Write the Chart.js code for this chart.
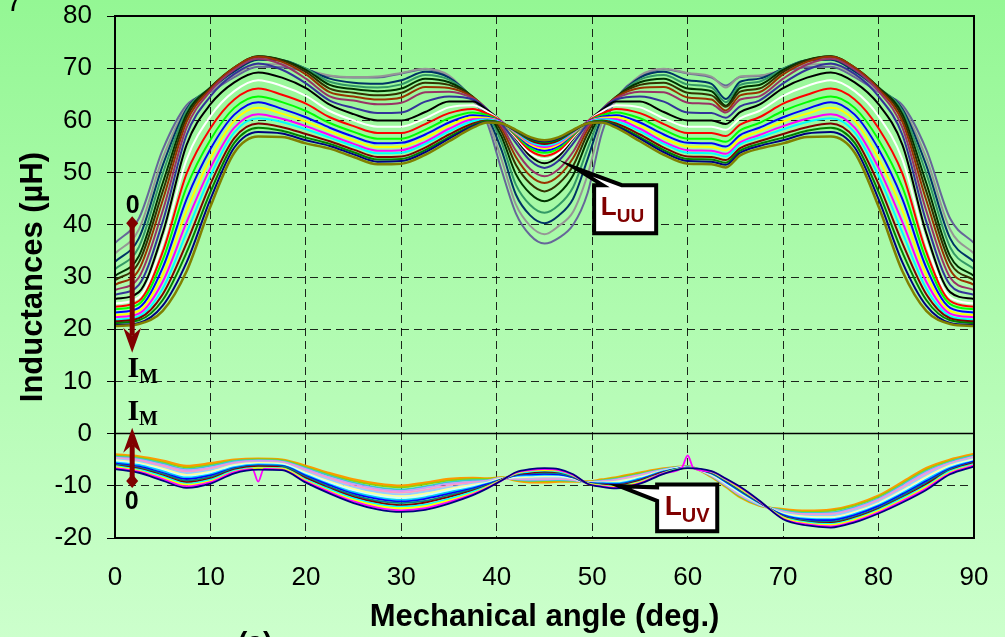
<!DOCTYPE html>
<html>
<head>
<meta charset="utf-8">
<title>Inductances vs mechanical angle</title>
<script src="https://cdn.jsdelivr.net/npm/chart.js@4.4.1/dist/chart.umd.min.js"></script>
<style>
  html, body { margin: 0; padding: 0; background: #ccffcc; }
  #wrap { width: 1005px; height: 637px; }
</style>
</head>
<body>
<div id="wrap"><canvas id="chart" width="1005" height="637"></canvas></div>
<script>
// mechanical angle grid (deg.), shared by all curves
const angles = [0, 2.5, 5, 7.5, 10, 12.5, 15, 17.5, 20, 22.5, 25, 27.5, 30, 32.5, 35, 37.5, 39, 40.5, 42, 43.5,
  45, 46.5, 48, 49.5, 51, 52.5, 55, 57.5, 60, 62.5, 64, 65.5, 67.5, 70, 72.5, 75, 77.5, 80, 82.5, 85, 87.5, 90];

const xTickValues = [0, 10, 20, 30, 40, 50, 60, 70, 80, 90];
const yTickValues = [-20, -10, 0, 10, 20, 30, 40, 50, 60, 70, 80];

// L_UU, one curve per current step (00 = zero current ... 20 = I_M)
const luu00 = [36.5, 41.2, 54.4, 62.9, 65.4, 68.3, 70.3, 70.2, 69.5, 68.5, 68.2, 68.2, 69.0, 69.8, 68.3, 64.0, 59.5, 50.5, 42.2, 38.0, 36.4,
  37.5, 40.0, 46.0, 57.5, 64.0, 68.3, 69.8, 69.0, 68.2, 66.7, 68.3, 68.5, 69.5, 70.2, 70.3, 68.3, 65.4, 62.9, 54.4, 41.2, 36.5];
const luu01 = [34.5, 39.1, 52.8, 62.4, 65.6, 68.7, 70.8, 70.7, 69.7, 68.6, 68.3, 68.4, 69.1, 69.9, 68.6, 63.8, 60.2, 52.5, 43.9, 39.8, 38.2,
  39.8, 42.5, 49.5, 59.5, 63.8, 68.6, 69.9, 69.1, 68.4, 66.3, 68.4, 68.6, 69.7, 70.7, 70.8, 68.7, 65.6, 62.4, 52.8, 39.1, 34.5];
const luu02 = [32.9, 37.4, 51.4, 62.2, 66.0, 69.4, 71.6, 71.5, 69.9, 68.0, 67.2, 67.0, 67.7, 69.3, 68.2, 64.2, 60.8, 54.3, 45.8, 41.8, 40.3,
  41.8, 45.0, 52.5, 60.5, 64.2, 68.2, 69.3, 67.7, 67.0, 64.1, 67.4, 68.0, 69.9, 71.5, 71.6, 69.4, 66.0, 62.2, 51.4, 37.4, 32.9];
const luu03 = [31.5, 35.7, 49.8, 61.8, 66.3, 69.9, 72.1, 71.6, 69.9, 67.4, 66.6, 66.3, 66.9, 68.7, 67.8, 64.4, 61.3, 55.8, 47.7, 43.8, 42.3,
  43.8, 47.2, 54.5, 61.3, 64.4, 67.8, 68.7, 66.9, 66.3, 63.5, 66.8, 67.4, 69.9, 71.6, 72.1, 69.9, 66.3, 61.8, 49.8, 35.7, 31.5];
const luu04 = [30.2, 34.0, 48.0, 61.2, 66.3, 70.1, 72.3, 71.6, 69.7, 66.8, 66.0, 65.6, 66.1, 68.0, 67.3, 64.5, 61.6, 56.9, 49.7, 46.0, 44.5,
  46.0, 49.5, 56.2, 61.6, 64.5, 67.3, 68.0, 66.1, 65.6, 62.8, 66.2, 66.8, 69.7, 71.6, 72.3, 70.1, 66.3, 61.2, 48.0, 34.0, 30.2];
const luu05 = [29.4, 32.8, 46.4, 60.5, 66.2, 70.1, 72.3, 71.5, 69.3, 66.1, 65.3, 64.8, 65.3, 67.2, 66.8, 64.5, 61.8, 57.8, 51.5, 47.9, 46.4,
  47.9, 51.3, 57.4, 61.8, 64.5, 66.8, 67.2, 65.3, 64.8, 62.6, 65.5, 66.1, 69.3, 71.5, 72.3, 70.1, 66.2, 60.5, 46.4, 32.8, 29.4];
const luu06 = [28.5, 31.4, 44.7, 59.7, 66.0, 70.1, 72.2, 71.2, 68.8, 65.4, 64.6, 64.0, 64.4, 66.4, 66.2, 64.4, 62.0, 58.5, 53.0, 49.4, 48.0,
  49.4, 52.8, 58.2, 62.0, 64.4, 66.2, 66.4, 64.4, 64.0, 61.9, 64.8, 65.4, 68.8, 71.2, 72.2, 70.1, 66.0, 59.7, 44.7, 31.4, 28.5];
const luu07 = [27.5, 29.9, 42.7, 58.6, 65.6, 69.7, 71.8, 70.7, 68.0, 64.6, 63.8, 63.1, 63.4, 65.4, 65.5, 64.2, 62.1, 59.0, 54.2, 50.7, 49.3,
  50.7, 54.0, 58.8, 62.1, 64.2, 65.5, 65.4, 63.4, 63.1, 61.5, 64.0, 64.6, 68.0, 70.7, 71.8, 69.7, 65.6, 58.6, 42.7, 29.9, 27.5];
const luu08 = [26.6, 28.5, 40.6, 57.2, 64.6, 68.9, 70.9, 69.7, 67.1, 63.8, 62.4, 61.4, 61.5, 63.6, 64.6, 64.0, 62.1, 59.4, 55.7, 52.3, 50.9,
  52.3, 55.6, 59.3, 62.1, 64.0, 64.6, 63.6, 61.5, 61.4, 60.5, 62.7, 63.8, 67.1, 69.7, 70.9, 68.9, 64.6, 57.2, 40.6, 28.5, 26.6];
const luu09 = [25.8, 27.1, 38.4, 55.3, 63.1, 67.3, 69.2, 68.2, 66.2, 63.0, 61.2, 60.0, 60.0, 61.6, 63.6, 63.6, 62.0, 59.8, 56.5, 53.2, 51.8,
  53.2, 56.5, 59.8, 62.0, 63.6, 63.6, 61.6, 60.0, 60.0, 59.3, 61.6, 63.0, 66.2, 68.2, 69.2, 67.3, 63.1, 55.3, 38.4, 27.1, 25.8];
const luu10 = [24.9, 26.1, 36.5, 52.5, 60.8, 65.6, 67.7, 66.6, 64.7, 61.8, 60.0, 58.8, 58.8, 60.4, 62.5, 62.9, 61.7, 59.8, 56.7, 53.7, 52.6,
  53.7, 56.7, 59.8, 61.7, 62.9, 62.5, 60.4, 58.8, 58.8, 58.2, 60.4, 61.8, 64.7, 66.6, 67.7, 65.6, 60.8, 52.5, 36.5, 26.1, 24.9];
const luu11 = [24.3, 25.4, 34.8, 49.8, 58.5, 64.0, 66.1, 64.9, 63.2, 60.6, 58.9, 57.6, 57.6, 59.3, 61.4, 62.2, 61.3, 59.8, 57.0, 54.2, 53.2,
  54.2, 57.0, 59.8, 61.3, 62.2, 61.4, 59.3, 57.6, 57.6, 57.0, 59.2, 60.6, 63.2, 64.9, 66.1, 64.0, 58.5, 49.8, 34.8, 25.4, 24.3];
const luu12 = [23.8, 24.8, 33.3, 47.2, 56.3, 62.4, 64.6, 63.5, 61.8, 59.5, 57.8, 56.5, 56.5, 58.2, 60.4, 61.5, 61.0, 59.7, 57.2, 54.7, 53.8,
  54.7, 57.2, 59.7, 61.0, 61.5, 60.4, 58.2, 56.5, 56.5, 55.9, 58.1, 59.5, 61.8, 63.5, 64.6, 62.4, 56.3, 47.2, 33.3, 24.8, 23.8];
const luu13 = [23.2, 24.1, 31.8, 44.9, 54.5, 61.1, 63.5, 62.2, 60.6, 58.6, 56.9, 55.6, 55.7, 57.3, 59.6, 61.0, 60.7, 59.7, 57.4, 55.1, 54.2,
  55.1, 57.4, 59.7, 60.7, 61.0, 59.6, 57.3, 55.7, 55.6, 55.0, 57.2, 58.6, 60.6, 62.2, 63.5, 61.1, 54.5, 44.9, 31.8, 24.1, 23.2];
const luu14 = [22.7, 23.5, 30.4, 42.7, 52.7, 59.9, 62.4, 61.3, 59.8, 57.9, 56.2, 54.9, 55.0, 56.6, 59.0, 60.6, 60.5, 59.6, 57.5, 55.4, 54.6,
  55.4, 57.5, 59.6, 60.5, 60.6, 59.0, 56.6, 55.0, 54.9, 54.3, 56.5, 57.9, 59.8, 61.3, 62.4, 59.9, 52.7, 42.7, 30.4, 23.5, 22.7];
const luu15 = [22.3, 23.0, 29.1, 40.5, 50.9, 58.6, 61.2, 60.3, 58.9, 57.2, 55.5, 54.2, 54.3, 55.9, 58.4, 60.2, 60.3, 59.6, 57.7, 55.7, 54.9,
  55.7, 57.7, 59.6, 60.3, 60.2, 58.4, 55.9, 54.3, 54.2, 53.6, 55.8, 57.2, 58.9, 60.3, 61.2, 58.6, 50.9, 40.5, 29.1, 23.0, 22.3];
const luu16 = [21.8, 22.5, 27.8, 38.5, 49.4, 57.7, 60.4, 59.7, 58.3, 56.7, 55.1, 53.7, 53.8, 55.5, 57.9, 59.9, 60.2, 59.5, 57.8, 55.9, 55.2,
  55.9, 57.8, 59.5, 60.2, 59.9, 57.9, 55.5, 53.8, 53.7, 53.1, 55.4, 56.7, 58.3, 59.7, 60.4, 57.7, 49.4, 38.5, 27.8, 22.5, 21.8];
const luu17 = [21.5, 22.1, 26.7, 36.5, 47.8, 56.6, 59.4, 58.7, 57.4, 56.0, 54.4, 53.0, 53.1, 54.8, 57.3, 59.4, 60.0, 59.5, 57.9, 56.2, 55.5,
  56.2, 57.9, 59.5, 60.0, 59.4, 57.3, 54.8, 53.1, 53.0, 52.4, 54.7, 56.0, 57.4, 58.7, 59.4, 56.6, 47.8, 36.5, 26.7, 22.1, 21.5];
const luu18 = [21.2, 21.7, 25.6, 34.7, 46.3, 55.7, 58.6, 58.0, 56.7, 55.5, 53.9, 52.5, 52.6, 54.3, 56.8, 59.1, 59.9, 59.5, 58.0, 56.4, 55.8,
  56.4, 58.0, 59.5, 59.9, 59.1, 56.8, 54.3, 52.6, 52.5, 51.9, 54.2, 55.5, 56.7, 58.0, 58.6, 55.7, 46.3, 34.7, 25.6, 21.7, 21.2];
const luu19 = [20.8, 21.2, 24.5, 32.8, 44.9, 54.8, 57.8, 57.5, 56.2, 55.1, 53.5, 52.1, 52.2, 53.9, 56.5, 58.9, 59.7, 59.4, 58.1, 56.6, 56.0,
  56.6, 58.1, 59.4, 59.7, 58.9, 56.5, 53.9, 52.2, 52.1, 51.5, 53.8, 55.1, 56.2, 57.5, 57.8, 54.8, 44.9, 32.8, 24.5, 21.2, 20.8];
const luu20 = [20.6, 21.0, 23.5, 31.1, 43.5, 53.8, 56.9, 56.8, 55.6, 54.6, 53.0, 51.6, 51.7, 53.4, 56.0, 58.6, 59.6, 59.4, 58.2, 56.8, 56.2,
  56.8, 58.2, 59.4, 59.6, 58.6, 56.0, 53.4, 51.7, 51.6, 51.0, 53.3, 54.6, 55.6, 56.8, 56.9, 53.8, 43.5, 31.1, 23.5, 21.0, 20.6];

// L_UV, one curve per current step
const luv00 = [-6.8, -7.5, -9.0, -10.4, -9.6, -7.6, -6.9, -7.0, -9.4, -11.5, -13.3, -14.5, -15.0, -14.6, -13.4, -11.8, -10.5, -9.0, -7.4, -6.8,
  -6.6, -6.8, -7.8, -9.6, -10.2, -10.5, -9.6, -7.7, -6.6, -7.2, -8.6, -10.2, -12.8, -16.4, -17.6, -18.0, -17.0, -15.3, -13.2, -10.8, -7.8, -6.3];
const luv01 = [-6.6, -7.3, -8.7, -10.1, -9.3, -7.4, -6.8, -6.9, -9.2, -11.2, -13.0, -14.2, -14.7, -14.3, -13.1, -11.6, -10.4, -9.0, -7.5, -7.0,
  -6.8, -7.0, -7.9, -9.6, -10.1, -10.4, -9.5, -7.6, -6.6, -7.3, -8.7, -10.3, -12.9, -16.3, -17.4, -17.8, -16.8, -15.1, -12.9, -10.5, -7.6, -6.1];
const luv02 = [-6.4, -7.1, -8.5, -9.8, -9.1, -7.3, -6.6, -6.7, -9.0, -11.0, -12.7, -13.8, -14.3, -13.9, -12.8, -11.4, -10.2, -8.9, -7.6, -7.1,
  -7.0, -7.1, -8.0, -9.5, -10.0, -10.2, -9.3, -7.6, -6.6, -7.3, -8.8, -10.5, -12.9, -16.1, -17.2, -17.5, -16.5, -14.8, -12.7, -10.2, -7.4, -6.0];
const luv03 = [-6.2, -6.9, -8.2, -9.6, -8.8, -7.1, -6.5, -6.6, -8.8, -10.7, -12.4, -13.5, -14.0, -13.6, -12.5, -11.1, -10.1, -8.9, -7.7, -7.3,
  -7.1, -7.3, -8.1, -9.5, -9.9, -10.1, -9.2, -7.5, -6.5, -7.4, -8.9, -10.6, -13.0, -16.0, -17.0, -17.3, -16.3, -14.6, -12.4, -10.0, -7.2, -5.8];
const luv04 = [-6.1, -6.7, -8.0, -9.3, -8.6, -6.9, -6.3, -6.5, -8.5, -10.5, -12.1, -13.2, -13.7, -13.2, -12.1, -10.9, -10.0, -8.8, -7.8, -7.5,
  -7.3, -7.4, -8.2, -9.5, -9.8, -9.9, -9.0, -7.4, -6.5, -7.5, -9.0, -10.7, -13.1, -15.9, -16.9, -17.1, -16.1, -14.4, -12.2, -9.7, -7.1, -5.6];
const luv05 = [-5.9, -6.5, -7.7, -9.0, -8.3, -6.7, -6.2, -6.3, -8.3, -10.2, -11.8, -12.9, -13.3, -12.9, -11.8, -10.7, -9.9, -8.8, -7.9, -7.6,
  -7.5, -7.6, -8.3, -9.5, -9.7, -9.8, -8.9, -7.4, -6.5, -7.6, -9.1, -10.9, -13.1, -15.8, -16.7, -16.9, -15.9, -14.2, -11.9, -9.4, -6.9, -5.5];
const luv06 = [-5.7, -6.3, -7.5, -8.7, -8.0, -6.6, -6.1, -6.2, -8.1, -9.9, -11.5, -12.5, -13.0, -12.5, -11.5, -10.5, -9.7, -8.8, -8.0, -7.8,
  -7.7, -7.8, -8.4, -9.4, -9.6, -9.7, -8.8, -7.3, -6.5, -7.6, -9.2, -11.0, -13.2, -15.6, -16.5, -16.6, -15.6, -13.9, -11.6, -9.1, -6.7, -5.3];
const luv07 = [-5.5, -6.0, -7.2, -8.4, -7.8, -6.4, -5.9, -6.1, -7.9, -9.7, -11.2, -12.2, -12.7, -12.2, -11.2, -10.3, -9.6, -8.7, -8.1, -8.0,
  -7.9, -7.9, -8.4, -9.4, -9.5, -9.5, -8.6, -7.2, -6.5, -7.7, -9.3, -11.1, -13.3, -15.5, -16.3, -16.4, -15.4, -13.7, -11.4, -8.8, -6.5, -5.2];
const luv08 = [-5.3, -5.8, -7.0, -8.2, -7.5, -6.2, -5.8, -5.9, -7.7, -9.4, -10.9, -11.9, -12.3, -11.8, -10.9, -10.0, -9.5, -8.7, -8.3, -8.1,
  -8.0, -8.1, -8.5, -9.4, -9.5, -9.4, -8.5, -7.2, -6.4, -7.8, -9.5, -11.3, -13.3, -15.4, -16.1, -16.2, -15.2, -13.5, -11.1, -8.6, -6.3, -5.0];
const luv09 = [-5.1, -5.6, -6.7, -7.9, -7.3, -6.0, -5.6, -5.8, -7.5, -9.2, -10.6, -11.6, -12.0, -11.5, -10.6, -9.8, -9.4, -8.6, -8.4, -8.3,
  -8.2, -8.2, -8.6, -9.4, -9.4, -9.2, -8.3, -7.1, -6.4, -7.9, -9.6, -11.4, -13.4, -15.3, -15.9, -16.0, -15.0, -13.3, -10.9, -8.3, -6.1, -4.9];
const luv10 = [-4.9, -5.4, -6.5, -7.6, -7.0, -5.9, -5.5, -5.7, -7.3, -8.9, -10.3, -11.2, -11.7, -11.1, -10.3, -9.6, -9.2, -8.6, -8.5, -8.5,
  -8.4, -8.4, -8.7, -9.3, -9.3, -9.1, -8.2, -7.0, -6.4, -7.9, -9.7, -11.5, -13.5, -15.1, -15.7, -15.7, -14.7, -13.0, -10.6, -8.0, -5.9, -4.7];
const luv11 = [-4.7, -5.2, -6.2, -7.3, -6.7, -5.7, -5.4, -5.5, -7.1, -8.6, -10.0, -10.9, -11.3, -10.8, -9.9, -9.4, -9.1, -8.6, -8.6, -8.6,
  -8.6, -8.6, -8.8, -9.3, -9.2, -8.9, -8.0, -7.0, -6.4, -8.0, -9.8, -11.7, -13.5, -15.0, -15.5, -15.5, -14.5, -12.8, -10.3, -7.7, -5.7, -4.5];
const luv12 = [-4.6, -5.0, -6.0, -7.0, -6.5, -5.5, -5.2, -5.4, -6.8, -8.4, -9.7, -10.6, -11.0, -10.4, -9.6, -9.2, -9.0, -8.5, -8.7, -8.8,
  -8.8, -8.7, -8.9, -9.3, -9.1, -8.8, -7.9, -6.9, -6.4, -8.1, -9.9, -11.8, -13.6, -14.9, -15.4, -15.3, -14.3, -12.6, -10.1, -7.4, -5.6, -4.4];
const luv13 = [-4.4, -4.8, -5.7, -6.8, -6.2, -5.3, -5.1, -5.3, -6.6, -8.1, -9.4, -10.3, -10.7, -10.1, -9.3, -8.9, -8.9, -8.5, -8.8, -9.0,
  -8.9, -8.9, -9.0, -9.3, -9.0, -8.7, -7.8, -6.8, -6.3, -8.2, -10.0, -11.9, -13.7, -14.7, -15.2, -15.1, -14.1, -12.4, -9.8, -7.2, -5.4, -4.2];
const luv14 = [-4.2, -4.6, -5.5, -6.5, -6.0, -5.2, -4.9, -5.1, -6.4, -7.9, -9.1, -9.9, -10.3, -9.7, -9.0, -8.7, -8.7, -8.4, -8.9, -9.1,
  -9.1, -9.0, -9.1, -9.2, -8.9, -8.5, -7.6, -6.8, -6.3, -8.2, -10.1, -12.1, -13.7, -14.6, -15.0, -14.8, -13.8, -12.1, -9.6, -6.9, -5.2, -4.1];
const luv15 = [-4.0, -4.4, -5.2, -6.2, -5.7, -5.0, -4.8, -5.0, -6.2, -7.6, -8.8, -9.6, -10.0, -9.4, -8.7, -8.5, -8.6, -8.4, -9.0, -9.3,
  -9.3, -9.2, -9.2, -9.2, -8.8, -8.4, -7.5, -6.7, -6.3, -8.3, -10.2, -12.2, -13.8, -14.5, -14.8, -14.6, -13.6, -11.9, -9.3, -6.6, -5.0, -3.9];

// narrow glitches on the magenta L_UV curve
const luvSpikeAngles = [14.4, 15.0, 15.6, 59.4, 60.0, 60.6];
const luvSpikeValues = [-6.8, -9.2, -6.75, -6.5, -4.2, -6.6];

const luuColors = ['#666699', '#969696', '#003366', '#339966', '#003300', '#333300', '#993300', '#993366', '#333399', '#000000',
  '#ffffff', '#ff0000', '#00ff00', '#0000ff', '#ffff00', '#ff00ff', '#00ffff', '#800000', '#008000', '#000080', '#808000'];
const luvColors = ['#000080', '#ff00ff', '#ffff00', '#00ffff', '#800000', '#008080', '#0000ff', '#00ccff',
  '#ccffff', '#ffff99', '#99ccff', '#ff99cc', '#cc99ff', '#33cccc', '#99cc00', '#ff9900'];

const luuCurves = [luu00, luu01, luu02, luu03, luu04, luu05, luu06, luu07, luu08, luu09, luu10,
  luu11, luu12, luu13, luu14, luu15, luu16, luu17, luu18, luu19, luu20];
const luvCurves = [luv00, luv01, luv02, luv03, luv04, luv05, luv06, luv07,
  luv08, luv09, luv10, luv11, luv12, luv13, luv14, luv15];

const SANS = '"Liberation Sans", Arial, sans-serif';
const SERIF = '"Liberation Serif", "Times New Roman", serif';
const noteColor = '#800000';

const toPoints = vals => vals.map((v, i) => ({ x: angles[i], y: v }));

function withSpikes(vals) {
  const base = toPoints(vals).filter(p => !luvSpikeAngles.includes(p.x));
  const spikes = luvSpikeAngles.map((a, i) => ({ x: a, y: luvSpikeValues[i] }));
  return base.concat(spikes).sort((a, b) => a.x - b.x);
}

const datasets = [];
luuCurves.forEach((vals, k) => {
  datasets.push({
    label: 'LUU ' + k,
    data: toPoints(vals),
    borderColor: luuColors[k],
    borderWidth: k === 20 ? 2.5 : 2,
    pointRadius: 0,
    cubicInterpolationMode: 'monotone',
    fill: false,
    order: -k
  });
});
luvCurves.forEach((vals, j) => {
  datasets.push({
    label: 'LUV ' + j,
    data: j === 1 ? withSpikes(vals) : toPoints(vals),
    borderColor: luvColors[j],
    borderWidth: j === 15 ? 2.5 : 1.8,
    pointRadius: 0,
    cubicInterpolationMode: 'monotone',
    fill: false
  });
});

function drawArrow(ctx, x, yStart, yTip) {
  const dir = Math.sign(yTip - yStart);
  const yBack = yTip - dir * 17;
  ctx.fillStyle = noteColor;
  // diamond end
  ctx.beginPath();
  ctx.moveTo(x, yStart - 7);
  ctx.lineTo(x + 6, yStart);
  ctx.lineTo(x, yStart + 7);
  ctx.lineTo(x - 6, yStart);
  ctx.closePath();
  ctx.fill();
  // shaft
  ctx.fillRect(x - 2.5, Math.min(yStart, yBack), 5, Math.abs(yBack - yStart));
  // barbed head
  ctx.beginPath();
  ctx.moveTo(x, yTip);
  ctx.lineTo(x + 9, yTip - dir * 25);
  ctx.lineTo(x, yBack);
  ctx.lineTo(x - 9, yTip - dir * 25);
  ctx.closePath();
  ctx.fill();
}

function subLabel(ctx, x, y, main, sub, mainFont, subFont, drop) {
  ctx.font = mainFont;
  ctx.fillText(main, x, y);
  const w = ctx.measureText(main).width;
  ctx.font = subFont;
  ctx.fillText(sub, x + w, y + drop);
}

const overlay = {
  id: 'overlay',
  beforeDraw(chart) {
    const { ctx, width, height } = chart;
    const g = ctx.createLinearGradient(0, 0, 0, height);
    g.addColorStop(0, '#94f794');
    g.addColorStop(1, '#ccffcc');
    ctx.save();
    ctx.fillStyle = g;
    ctx.fillRect(0, 0, width, height);
    ctx.restore();
  },
  afterDatasetsDraw(chart) {
    const { ctx, chartArea: a, scales: { x, y } } = chart;
    const px = v => x.getPixelForValue(v);
    const py = v => y.getPixelForValue(v);
    ctx.save();

    // zero line and plot frame
    ctx.strokeStyle = '#000';
    ctx.lineWidth = 1.5;
    ctx.beginPath();
    ctx.moveTo(a.left, py(0));
    ctx.lineTo(a.right, py(0));
    ctx.stroke();
    ctx.lineWidth = 2;
    ctx.strokeRect(a.left, a.top, a.right - a.left, a.bottom - a.top);

    // current arrows 0 -> I_M
    drawArrow(ctx, px(1.8), py(40.3), py(15.5));
    drawArrow(ctx, px(1.8), py(-9.1), py(1.1));

    ctx.fillStyle = '#000';
    ctx.textAlign = 'center';
    ctx.textBaseline = 'middle';
    ctx.font = 'bold 25px ' + SANS;
    ctx.fillText('0', px(1.85), py(43.5));
    ctx.fillText('0', px(1.75), py(-13.2));

    ctx.textAlign = 'left';
    ctx.textBaseline = 'alphabetic';
    subLabel(ctx, px(1.3), py(10.9), 'I', 'M', 'bold 30px ' + SERIF, 'bold 20px ' + SERIF, 6);
    subLabel(ctx, px(1.3), py(2.6), 'I', 'M', 'bold 30px ' + SERIF, 'bold 20px ' + SERIF, 5);

    // callout L_UU
    ctx.lineWidth = 4;
    ctx.lineJoin = 'miter';
    ctx.strokeStyle = '#000';
    ctx.fillStyle = '#fff';
    let x1 = px(50.2), x2 = px(56.7), y1 = py(47.6), y2 = py(38.4);
    ctx.beginPath();
    ctx.moveTo(x1, y1);
    ctx.lineTo(px(51.1), y1);
    ctx.lineTo(px(48.2), py(50.9));
    ctx.lineTo(px(53.1), y1);
    ctx.lineTo(x2, y1);
    ctx.lineTo(x2, y2);
    ctx.lineTo(x1, y2);
    ctx.closePath();
    ctx.fill();
    ctx.stroke();
    ctx.fillStyle = noteColor;
    subLabel(ctx, px(50.9), py(41.9), 'L', 'UU', 'bold 26px ' + SANS, 'bold 19px ' + SANS, 7);

    // callout L_UV
    ctx.fillStyle = '#fff';
    x1 = px(56.8); x2 = px(63.1); y1 = py(-9.75); y2 = py(-18.7);
    ctx.beginPath();
    ctx.moveTo(x1, y1);
    ctx.lineTo(x2, y1);
    ctx.lineTo(x2, y2);
    ctx.lineTo(x1, y2);
    ctx.lineTo(x1, py(-12.9));
    ctx.lineTo(px(52.9), py(-10.1));
    ctx.lineTo(x1, py(-10.3));
    ctx.closePath();
    ctx.fill();
    ctx.stroke();
    ctx.fillStyle = noteColor;
    subLabel(ctx, px(57.6), py(-15.5), 'L', 'UV', 'bold 28px ' + SANS, 'bold 20px ' + SANS, 7);

    // cropped remains of neighbouring labels
    ctx.fillStyle = '#000';
    ctx.font = '30px ' + SANS;
    ctx.fillText('7', 6, 11);
    ctx.font = 'bold 28px ' + SANS;
    ctx.fillText('(a)', 238, 651);
    ctx.restore();
  }
};

Chart.defaults.font.family = SANS;
Chart.defaults.color = '#000';

new Chart(document.getElementById('chart'), {
  type: 'line',
  data: { datasets },
  plugins: [overlay],
  options: {
    responsive: false,
    animation: false,
    events: [],
    layout: { padding: { top: 16, right: 31, left: 0, bottom: 0 } },
    plugins: { legend: { display: false }, tooltip: { enabled: false } },
    scales: {
      x: {
        type: 'linear',
        min: 0,
        max: 90,
        afterBuildTicks: s => { s.ticks = xTickValues.map(v => ({ value: v })); },
        afterFit: s => { s.height = 99; },
        grid: { color: 'rgba(0,0,0,0.85)', lineWidth: 1, drawTicks: false },
        border: { display: false, dash: [8, 5] },
        // tall line box keeps the labels low while the padding stays small
        ticks: { color: '#000', font: { size: 26, lineHeight: 1.81 }, padding: 16, maxRotation: 0 },
        title: {
          display: true,
          text: 'Mechanical angle (deg.)',
          color: '#000',
          font: { size: 31, weight: 'bold' },
          padding: { top: 0, bottom: 1 }
        }
      },
      y: {
        type: 'linear',
        min: -20,
        max: 80,
        afterBuildTicks: s => { s.ticks = yTickValues.map(v => ({ value: v })); },
        afterFit: s => { s.width = 115; },
        grid: {
          color: 'rgba(0,0,0,0.85)', lineWidth: 1, drawTicks: true, tickLength: 8,
          tickColor: '#000', tickWidth: 1, tickBorderDash: []
        },
        border: { display: false, dash: [8, 5] },
        // tiny line box so the top label does not push the plot down
        ticks: { color: '#000', font: { size: 26, lineHeight: 0.05 }, padding: 15 },
        title: {
          display: true,
          text: 'Inductances (µH)',
          color: '#000',
          font: { size: 31, weight: 'bold' },
          padding: { top: 15, bottom: 0 }
        }
      }
    }
  }
});
</script>
</body>
</html>
